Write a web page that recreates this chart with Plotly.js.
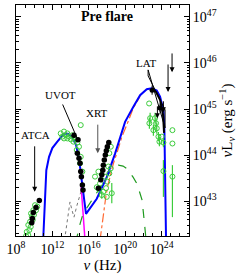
<!DOCTYPE html>
<html><head><meta charset="utf-8">
<script src="https://cdn.plot.ly/plotly-3.0.1.min.js"></script>
<style>html,body{margin:0;padding:0;background:#fff}#c{width:241px;height:274px}</style>
</head><body><div id="c"></div>
<script>
// all values as log10(nu [Hz]) and log10(nuL_nu [erg/s])
const blueNu = [10.95,11.0,11.15,11.33,11.63,11.99,12.54,12.91,13.27,13.71,14.15,14.59,14.92,15.14,15.36,15.58,15.69,16.87,17.97,18.88,19.43,19.98,20.89,21.63,22.36,22.91,23.46,23.82,24.19,24.30,24.35,24.41,24.48];
const blueL  = [42.0,42.22,43.02,43.67,43.96,44.15,44.29,44.38,44.46,44.46,44.39,44.22,43.93,43.57,43.20,42.87,42.72,43.05,43.52,44.03,44.39,44.72,45.05,45.30,45.43,45.45,45.40,45.27,44.98,44.54,43.89,43.02,42.15];
const orNu = [17.23,17.59,17.89,18.14,18.69,19.24,19.62,20.20,20.86,21.63];
const orL  = [42.15,42.69,43.13,43.38,43.81,44.14,44.39,44.67,45.01,45.28];
const gdNu = [14.65,14.70,15.03,15.36,15.91,16.68,17.56,18.33,18.77,19.24,19.76,20.20,20.86,21.30,21.85,22.07,22.29];
const gdL  = [42.10,42.22,42.50,42.72,42.89,43.11,43.39,43.63,43.74,43.78,43.76,43.70,43.52,43.37,43.02,42.59,42.15];
const dotNu = [13.33,13.38,13.71,13.93,14.15,14.37,14.70,15.03,15.25];
const dotL  = [42.15,42.22,42.70,42.98,42.80,42.65,42.91,43.13,43.28];
const magNu = [15.14,15.25,15.40,15.58];
const magL  = [43.35,43.02,42.59,42.15];

// data points
const atcaNu = [10.56,10.20,9.90,9.79,9.73];
const atcaL  = [43.01,42.86,42.75,42.62,42.53];
const radioGNu = [9.10,9.35,9.18,9.46,9.62,9.35,9.54,9.84,9.73,9.98,10.20,9.90,9.65,10.34,10.09];
const radioGL  = [42.24,42.26,42.33,42.37,42.44,42.48,42.55,42.59,42.67,42.70,42.80,42.80,42.73,42.88,42.91];
const optGNu = [12.91,13.09,13.27,13.46,13.64,13.82,14.01,14.19,14.37,14.56,14.30,14.74,13.64,13.27,15.11,14.92,14.67,15.11,15.03,15.29];
const optGL  = [44.47,44.40,44.51,44.43,44.47,44.40,44.34,44.43,44.38,44.33,44.29,44.27,44.36,44.36,44.65,44.18,44.11,43.96,43.82,43.64];
const optBNu = [14.37,14.81,14.74,14.92,15.03,15.11,15.18,15.29,15.36];
const optBL  = [44.43,44.33,44.04,43.93,43.82,43.64,43.53,43.35,43.24];
const xrtBNu = [17.05,17.31,17.42,17.53,17.59,17.70,17.81,17.92,18.03,18.19];
const xrtBL  = [43.28,43.46,43.57,43.67,43.78,43.89,44.00,44.09,44.18,44.27];
const xrtGNu = [16.68,16.87,17.15,17.59,17.89,18.03,18.25,18.41,17.97,18.52,17.42,17.78,18.14,18.25,18.41,17.23,17.05];
const xrtGL  = [43.53,43.30,43.25,43.20,43.28,43.42,43.60,43.71,43.09,43.17,43.13,43.53,43.75,44.04,44.18,43.38,43.64];
const xrtGErr = [0,0,0,0,0,0,0,0,0,0.22,0.08,0,0,0,0,0,0];
const latGNu = [22.62,22.73,22.65,23.27,23.38,23.09,23.46,23.64,24.01,24.19,23.75,25.18,25.18,24.19,25.18];
const latGL  = [45.12,44.80,44.69,44.80,44.69,44.54,44.58,44.40,44.40,44.27,44.29,44.54,44.25,43.65,43.53];
const latGErrUp = [0,0.12,0.12,0.12,0.12,0.12,0.12,0.1,0,0.1,0.1,0,0,0.24,0.25];
const latGErrDn = [0,0.12,0.12,0.12,0.12,0.12,0.12,0.1,0,0.1,0.1,0,0,0.56,0.88];
const latBNu = [22.95,23.82];
const latBL  = [45.41,45.02];
const bowNu = [22.51,24.37,24.37,22.51,22.51];
const bowL  = [45.85,44.59,44.98,45.72,45.85];
const latLineNu = [22.84,23.38,23.82,24.15,24.26];
const latLineL  = [45.43,45.37,45.20,44.87,44.48];
// upper limits (arrows): nu, from, to
const ulNu = [24.70,25.14,23.53,24.19];
const ulTop = [46.0,46.24,45.09,45.20];
const ulBot = [45.37,45.80,44.80,44.93];

const P = a => a.map(v => Math.pow(10, v));
const errUp = (y, e) => y.map((v,i)=>Math.pow(10,v+e[i])-Math.pow(10,v));
const errDn = (y, e) => y.map((v,i)=>Math.pow(10,v)-Math.pow(10,v-e[i]));

const green = '#3ccc3c';
const line = (x,y,color,dash,width) => ({x:P(x),y:P(y),mode:'lines',type:'scatter',line:{color:color,dash:dash,width:width},hoverinfo:'skip'});
const gMark = {symbol:'circle-open',size:5,color:green,line:{width:1,color:green}};
const bMark = {symbol:'circle',size:5.5,color:'#000'};

const traces = [
  line(dotNu,dotL,'#777','dot',1),
  line(magNu,magL,'#ff00ff','solid',1.5),
  line(gdNu,gdL,'#1f9a1f','dash',1.2),
  line(orNu,orL,'#ff6a33','dashdot',1.2),
  line(blueNu,blueL,'#0000ff','solid',2),
  {x:P(radioGNu),y:P(radioGL),mode:'markers',type:'scatter',marker:gMark},
  {x:P(optGNu),y:P(optGL),mode:'markers',type:'scatter',marker:gMark},
  {x:P(xrtGNu),y:P(xrtGL),mode:'markers',type:'scatter',marker:gMark,
    error_y:{type:'data',symmetric:false,array:errUp(xrtGL,xrtGErr),arrayminus:errDn(xrtGL,xrtGErr),color:green,thickness:1.2,width:0}},
  {x:P(latGNu),y:P(latGL),mode:'markers',type:'scatter',marker:gMark,
    error_y:{type:'data',symmetric:false,array:errUp(latGL,latGErrUp),arrayminus:errDn(latGL,latGErrDn),color:green,thickness:1.2,width:0}},
  {x:P(atcaNu),y:P(atcaL),mode:'markers',type:'scatter',marker:bMark},
  {x:P(optBNu),y:P(optBL),mode:'markers',type:'scatter',marker:bMark},
  {x:P(xrtBNu),y:P(xrtBL),mode:'markers',type:'scatter',marker:bMark},
  line(bowNu,bowL,'#000','solid',1),
  line(latLineNu,latLineL,'#000','solid',2),
  {x:P(latBNu),y:P(latBL),mode:'markers',type:'scatter',marker:{symbol:'circle',size:5,color:'#000'},
    error_y:{type:'data',symmetric:false,array:errUp(latBL,[0.1,0.1]),arrayminus:errDn(latBL,[0.1,0.1]),color:'#000',thickness:1,width:0},
    error_x:{type:'data',symmetric:false,array:errUp(latBNu,[0.25,0.25]),arrayminus:errDn(latBNu,[0.25,0.25]),color:'#000',thickness:1,width:0}}
];

const serif = '"Liberation Serif", "DejaVu Serif", serif';
const xMajor = [8,12,16,20,24];
const yMajor = [43,44,45,46,47];
const xMinor = [], yMinor = [];
for (let k=8;k<=27;k++) if (!xMajor.includes(k)) xMinor.push(Math.pow(10,k));
for (let k=42;k<=47;k++) for (let m=1;m<=9;m++) { if (m===1 && yMajor.includes(k)) continue; yMinor.push(m*Math.pow(10,k)); }

const ann = [
  {text:'<b>Pre flare</b>',x:17.95,y:47.0,xref:'x',yref:'y',showarrow:false,font:{family:serif,size:14,color:'#000'}},
  {text:'ATCA',x:10.09,y:44.43,xref:'x',yref:'y',showarrow:false,font:{family:serif,size:11,color:'#000'}},
  {text:'UVOT',x:12.84,y:45.30,xref:'x',yref:'y',showarrow:false,font:{family:serif,size:11,color:'#000'}},
  {text:'XRT',x:16.90,y:44.91,xref:'x',yref:'y',showarrow:false,font:{family:serif,size:11,color:'#000'}},
  {text:'LAT',x:22.29,y:46.0,xref:'x',yref:'y',showarrow:false,font:{family:serif,size:11,color:'#000'}},
  {text:'',x:10.05,y:43.20,xref:'x',yref:'y',ax:0,ay:-47,showarrow:true,arrowhead:2,arrowsize:1,arrowwidth:1,arrowcolor:'#000'},
  {text:'',x:14.70,y:44.37,xref:'x',yref:'y',ax:-15,ay:-35,showarrow:true,arrowhead:0,arrowwidth:1,arrowcolor:'#000'},
  {text:'',x:16.98,y:44.04,xref:'x',yref:'y',ax:0,ay:-30,showarrow:true,arrowhead:2,arrowsize:1,arrowwidth:1,arrowcolor:'#555'}
];
ulNu.forEach((n,i)=>ann.push({text:'',x:n,y:ulBot[i],xref:'x',yref:'y',axref:'x',ayref:'y',ax:n,ay:ulTop[i],showarrow:true,arrowhead:2,arrowsize:1,arrowwidth:1,arrowcolor:'#000'}));

const axBase = {type:'log',showgrid:false,zeroline:false,showline:true,linecolor:'#000',linewidth:1,mirror:'allticks',ticks:'inside',ticklen:5,tickcolor:'#000',tickfont:{family:serif,size:14,color:'#000'}};
const layout = {
  width:241,height:274,margin:{l:16,r:52,t:5,b:38},showlegend:false,
  paper_bgcolor:'#fff',plot_bgcolor:'#fff',
  xaxis:Object.assign({},axBase,{range:[8,27],tickvals:P(xMajor),ticktext:xMajor.map(p=>'10<sup>'+p+'</sup>'),
    minor:{tickvals:xMinor,ticks:'inside',ticklen:3,tickcolor:'#000'},
    title:{text:'<i>ν</i> (Hz)',font:{family:serif,size:15,color:'#000'},standoff:2}}),
  yaxis:Object.assign({},axBase,{side:'right',range:[42.24,47.26],tickvals:P(yMajor),ticktext:yMajor.map(p=>'10<sup>'+p+'</sup>'),
    minor:{tickvals:yMinor,ticks:'inside',ticklen:2.5,tickcolor:'#000'},
    title:{text:'<i>ν</i>L<sub><i>ν</i></sub> (erg s<sup>−1</sup>)',font:{family:serif,size:15,color:'#000'},standoff:4}}),
  annotations:ann
};
Plotly.newPlot('c',traces,layout,{staticPlot:true,displayModeBar:false});
</script></body></html>
